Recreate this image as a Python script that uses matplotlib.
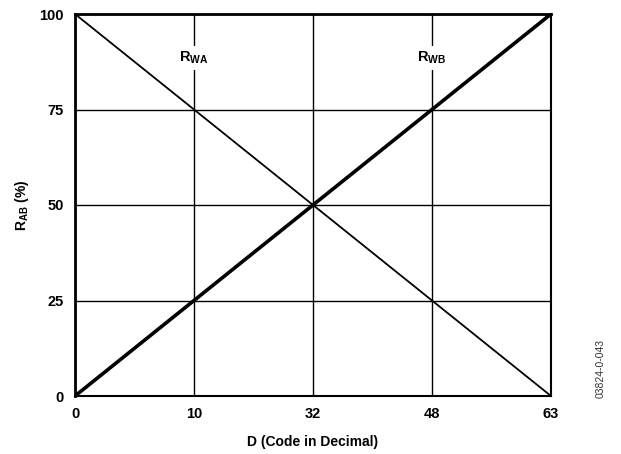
import matplotlib
matplotlib.use("Agg")
import matplotlib.pyplot as plt

codes = [0, 10, 32, 48, 63]
r_wb = [0, 25, 50, 75, 100]
r_wa = [100, 75, 50, 25, 0]
y_ticks = [0, 25, 50, 75, 100]

plt.rcParams['font.family'] = ['Liberation Sans', 'DejaVu Sans']
plt.rcParams['mathtext.fontset'] = 'custom'
plt.rcParams['mathtext.rm'] = 'Liberation Sans:bold'
plt.rcParams['mathtext.bf'] = 'Liberation Sans:bold'
plt.rcParams['mathtext.it'] = 'Liberation Sans:bold'

fig = plt.figure(figsize=(6.21, 4.54), dpi=100)
ax = fig.add_axes([75/621, 1-396/454, 476/621, 382/454])

pos = list(range(len(codes)))
ax.plot(pos, r_wb, color='black', lw=2.6, solid_capstyle='round', zorder=3)
ax.plot(pos, r_wa, color='black', lw=1.3, zorder=3)

ax.set_xlim(0, len(codes)-1)
ax.set_ylim(0, 100)
ax.set_xticks(pos)
ax.set_xticklabels([str(c) for c in codes])
ax.set_yticks(y_ticks)
ax.grid(True, color='black', lw=1.0)
ax.set_axisbelow(True)
ax.tick_params(length=0, pad=8, labelsize=10.5)
for lab in ax.get_xticklabels() + ax.get_yticklabels():
    lab.set_fontweight('bold')
for s in ['left', 'top']:
    ax.spines[s].set_linewidth(2.0)
for s in ['right', 'bottom']:
    ax.spines[s].set_linewidth(1.5)

ax.set_xlabel('D (Code in Decimal)', fontsize=10, fontweight='bold', labelpad=10)
ax.set_ylabel(r'R$_{\mathrm{AB}}$ (%)', fontsize=10, fontweight='bold', labelpad=6)

bbox = dict(facecolor='white', edgecolor='none', pad=3)
ax.text(1, 88.5, r'R$_{\mathrm{WA}}$', ha='center', va='center', fontsize=10.5,
        fontweight='bold', bbox=bbox, zorder=4)
ax.text(3, 88.5, r'R$_{\mathrm{WB}}$', ha='center', va='center', fontsize=10.5,
        fontweight='bold', bbox=bbox, zorder=4)

fig.text(601/621, 1-368/454, '03824-0-043', rotation=90, ha='center', va='center',
         fontsize=7.5, color='#333333')

fig.savefig('out.png', dpi=100)
